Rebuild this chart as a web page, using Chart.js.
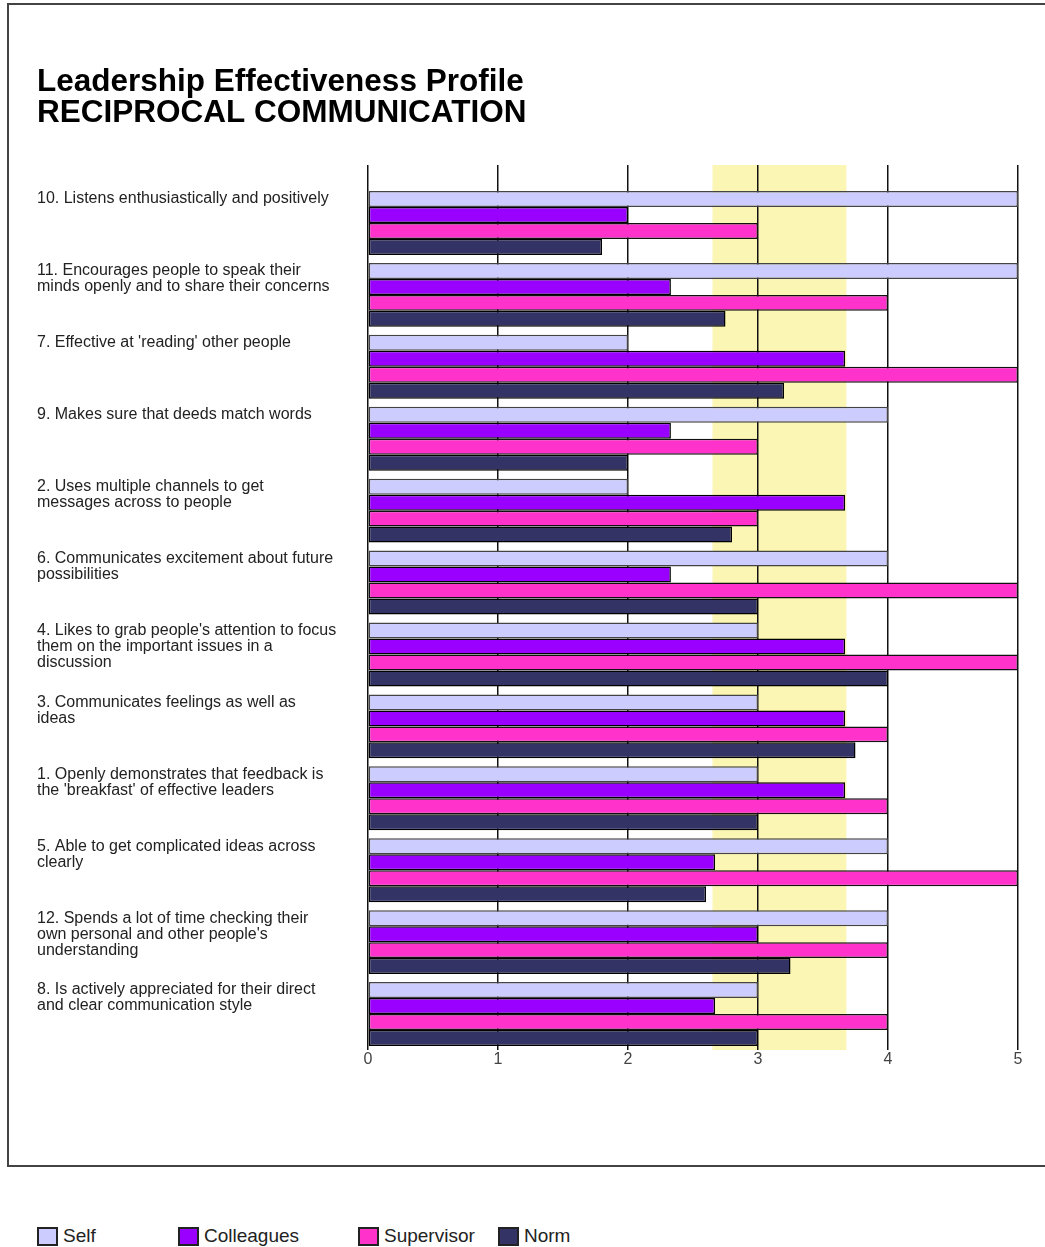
<!DOCTYPE html>
<html>
<head>
<meta charset="utf-8">
<script src="https://cdn.jsdelivr.net/npm/chart.js@4.4.1/dist/chart.umd.min.js"></script>
<style>
  body { margin: 0; background: #fff; font-family: "Liberation Sans", Arial, sans-serif; }
  #frame { position: absolute; left: 7px; top: 3px; width: 1100px; height: 1160px; border: 2px solid #444; }
  #wrap { position: absolute; left: 0; top: 0; width: 1045px; height: 1085px; }
  #legend { position: absolute; left: 0; top: 1226px; width: 1045px; height: 20px; font-size: 19px; color: #222; }
  .item { position: absolute; top: 0; height: 20px; display: flex; align-items: center; white-space: nowrap; }
  .swatch { box-sizing: border-box; width: 21px; height: 19px; border: 2px solid #222; margin-right: 5px; }
</style>
</head>
<body>
<div id="frame"></div>
<div id="wrap"><canvas id="chart"></canvas></div>
<div id="legend"></div>
<script>
const categories = [
  ["10. Listens enthusiastically and positively"],
  ["11. Encourages people to speak their", "minds openly and to share their concerns"],
  ["7. Effective at 'reading' other people"],
  ["9. Makes sure that deeds match words"],
  ["2. Uses multiple channels to get", "messages across to people"],
  ["6. Communicates excitement about future", "possibilities"],
  ["4. Likes to grab people's attention to focus", "them on the important issues in a", "discussion"],
  ["3. Communicates feelings as well as", "ideas"],
  ["1. Openly demonstrates that feedback is", "the 'breakfast' of effective leaders"],
  ["5. Able to get complicated ideas across", "clearly"],
  ["12. Spends a lot of time checking their", "own personal and other people's", "understanding"],
  ["8. Is actively appreciated for their direct", "and clear communication style"]
];

const self       = [5, 5, 2, 4, 2, 4, 3, 3, 3, 4, 4, 3];
const colleagues = [2, 2.33, 3.67, 2.33, 3.67, 2.33, 3.67, 3.67, 3.67, 2.67, 3, 2.67];
const supervisor = [3, 4, 5, 3, 3, 5, 5, 4, 4, 5, 4, 4];
const norm       = [1.8, 2.75, 3.2, 2, 2.8, 3, 4, 3.75, 3, 2.6, 3.25, 3];

const normBand = [2.65, 3.68];
const xTicks = [0, 1, 2, 3, 4, 5];

const FONT = '"Liberation Sans", Arial, Helvetica, sans-serif';
const GRID = "#111";

// labels sit at the top of each group, so pad every one to 4 lines
const padded = categories.map(lines => lines.concat(Array(4 - lines.length).fill("")));

const bandPlugin = {
  id: "band",
  beforeDraw(chart) {
    const { ctx, chartArea, scales } = chart;
    const x1 = scales.x.getPixelForValue(normBand[0]);
    const x2 = scales.x.getPixelForValue(normBand[1]);
    ctx.save();
    ctx.fillStyle = "#fbf6b3";
    ctx.fillRect(x1, chartArea.top - 22, x2 - x1, chartArea.bottom - chartArea.top + 22);
    ctx.restore();
  }
};

const series = [
  { label: "Self", data: self, backgroundColor: "#ccccff", borderColor: "#444" },
  { label: "Colleagues", data: colleagues, backgroundColor: "#9900ff", borderColor: "#000" },
  { label: "Supervisor", data: supervisor, backgroundColor: "#ff33cc", borderColor: "#111" },
  { label: "Norm", data: norm, backgroundColor: "#333366", borderColor: "#000" }
];

const chart = new Chart(document.getElementById("chart"), {
  type: "bar",
  data: {
    labels: padded,
    datasets: series.map(s => Object.assign({
      borderWidth: 1.5,
      borderSkipped: false,
      barPercentage: 1,
      categoryPercentage: 64 / 72
    }, s))
  },
  plugins: [bandPlugin],
  options: {
    indexAxis: "y",
    responsive: true,
    maintainAspectRatio: false,
    animation: false,
    layout: { padding: { left: 37, right: 27, top: 67, bottom: 4 } },
    plugins: {
      legend: { display: false },
      tooltip: { enabled: false },
      title: {
        display: true,
        align: "start",
        text: ["Leadership Effectiveness Profile", "RECIPROCAL COMMUNICATION"],
        color: "#000",
        font: { family: FONT, size: 31.5, weight: "bold", lineHeight: 31 / 31.5 },
        padding: { top: 0, bottom: 36 }
      }
    },
    scales: {
      x: {
        type: "linear",
        position: "bottom",
        min: 0,
        max: 5,
        afterBuildTicks: axis => { axis.ticks = xTicks.map(v => ({ value: v })); },
        afterFit: axis => { axis.height = 30; },
        ticks: { color: "#444", padding: 2, font: { family: FONT, size: 16, lineHeight: 1 } },
        grid: { color: GRID, lineWidth: 1.5, drawTicks: false },
        border: { display: false }
      },
      xTop: {
        type: "linear",
        position: "top",
        min: 0,
        max: 5,
        afterBuildTicks: axis => { axis.ticks = xTicks.map(v => ({ value: v })); },
        ticks: { display: false },
        grid: { color: GRID, lineWidth: 1.5, drawOnChartArea: false, drawTicks: true, tickLength: 22 },
        border: { display: false }
      },
      y: {
        afterFit: axis => { axis.width = 331; },
        ticks: {
          autoSkip: false,
          crossAlign: "far",
          color: "#222",
          font: { family: FONT, size: 16, lineHeight: 1 }
        },
        grid: { display: false },
        border: { display: false }
      }
    }
  }
});

// legend below the frame, built from the datasets
const legendLeft = [37, 178, 358, 498];
const legend = document.getElementById("legend");
chart.data.datasets.forEach((ds, i) => {
  const item = document.createElement("div");
  item.className = "item";
  item.style.left = legendLeft[i] + "px";
  const sw = document.createElement("span");
  sw.className = "swatch";
  sw.style.background = ds.backgroundColor;
  item.appendChild(sw);
  item.appendChild(document.createTextNode(ds.label));
  legend.appendChild(item);
});
</script>
</body>
</html>
